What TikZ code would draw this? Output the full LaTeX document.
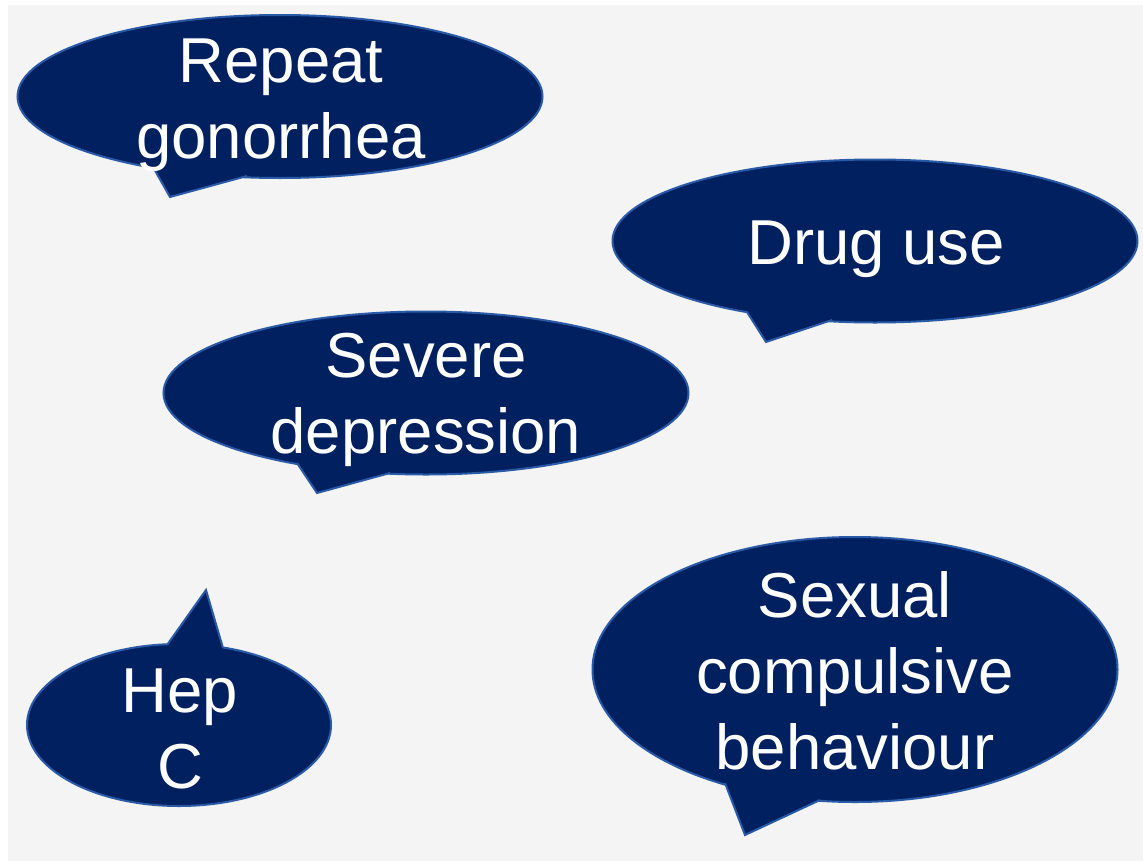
\documentclass[tikz,border=0pt]{standalone}
\usepackage{fontspec}
\setmainfont{Liberation Sans}
\usetikzlibrary{shapes.geometric}
\definecolor{navy}{HTML}{002060}
\definecolor{rim}{HTML}{2A5AA6}
\definecolor{bgcol}{HTML}{F4F4F4}
\newcommand\txtlines[1]{\begin{tabular}[t]{@{}c@{}}#1\end{tabular}}
\begin{document}
\begin{tikzpicture}[x=1pt,y=-1pt,
  bubble/.style={ellipse, fill=navy, draw=rim, line width=2pt, inner sep=0pt},
  tailfill/.style={fill=navy},
  tailedge/.style={draw=rim, line width=2pt, line join=miter},
  lbl/.style={text=white, font=\fontsize{63.5}{76}\selectfont, anchor=base, inner sep=0pt}]
\useasboundingbox (0,0) rectangle (1143,862);
\fill[bgcol] (8,5) rectangle (1143,861);

% Repeat gonorrhea
\node[bubble, minimum width=525pt, minimum height=163pt] (rg) at (280,96.5) {};
\coordinate (rg1) at (153,167);
\coordinate (rga) at (170,197);
\coordinate (rg2) at (247,176);
\fill[tailfill] (rg1) -- (rga) -- (rg2) -- (rg.center) -- cycle;
\draw[tailedge] (rg1) -- (rga) -- (rg2);
\node[lbl] (rgt) at (281,82) {\txtlines{Repeat\\gonorrhea}};

% Drug use
\node[bubble, minimum width=525pt, minimum height=163pt] (du) at (875,241) {};
\coordinate (du1) at (747,312);
\coordinate (dua) at (766,342);
\coordinate (du2) at (832,320);
\fill[tailfill] (du1) -- (dua) -- (du2) -- (du.center) -- cycle;
\draw[tailedge] (du1) -- (dua) -- (du2);
\node[lbl] (dut) at (876,264) {Drug use};

% Severe depression
\node[bubble, minimum width=525pt, minimum height=163pt] (sd) at (426,393) {};
\coordinate (sd1) at (297,463);
\coordinate (sda) at (317,493);
\coordinate (sd2) at (390,473);
\fill[tailfill] (sd1) -- (sda) -- (sd2) -- (sd.center) -- cycle;
\draw[tailedge] (sd1) -- (sda) -- (sd2);
\node[lbl] (sdt) at (426,377) {\txtlines{Severe\\depression}};

% Hep C
\node[bubble, minimum width=304pt, minimum height=162pt] (hc) at (179,725) {};
\coordinate (hc1) at (167,645);
\coordinate (hca) at (206,590);
\coordinate (hc2) at (223,648);
\fill[tailfill] (hc1) -- (hca) -- (hc2) -- (hc.center) -- cycle;
\draw[tailedge] (hc1) -- (hca) -- (hc2);
\node[lbl] (hct) at (180,712) {\txtlines{Hep\\C}};

% Sexual compulsive behaviour
\node[bubble, minimum width=525pt, minimum height=265pt] (sc) at (855,669.5) {};
\coordinate (sc1) at (725,783);
\coordinate (sca) at (745,835);
\coordinate (sc2) at (820,800);
\fill[tailfill] (sc1) -- (sca) -- (sc2) -- (sc.center) -- cycle;
\draw[tailedge] (sc1) -- (sca) -- (sc2);
\node[lbl] (sct) at (855,617) {\txtlines{Sexual\\compulsive\\behaviour}};
\end{tikzpicture}
\end{document}
